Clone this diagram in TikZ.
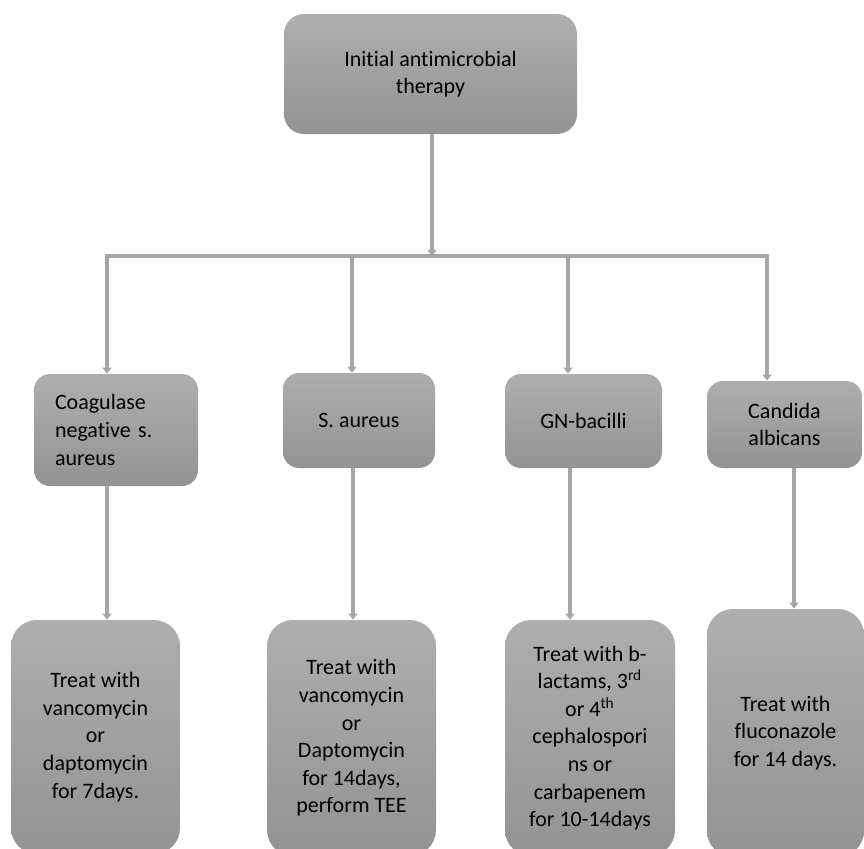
\documentclass[tikz,border=0pt]{standalone}
\usepackage{fontspec}
\setmainfont{Carlito}[RawFeature=-liga]
\usetikzlibrary{arrows.meta}
\definecolor{boxtop}{HTML}{AEAEAE}
\definecolor{boxbot}{HTML}{939393}
\definecolor{linegray}{HTML}{A6A6A6}
\tikzset{
  box/.style={rounded corners=#1, top color=boxtop, bottom color=boxbot,
    draw=none, align=center, inner sep=0pt,
    font=\fontsize{11}{13.8}\selectfont},
  box/.default=8pt,
  link/.style={draw=linegray, line width=1.8pt},
  arr/.style={link, -{Triangle[length=3pt,width=4.5pt]}}
}
\begin{document}
\begin{tikzpicture}[x=0.5pt,y=-0.5pt]
  \useasboundingbox (0,0) rectangle (864,848);
  \clip (0,0) rectangle (864,848);
  % top
  \node[box=10pt, minimum width=146.5pt, minimum height=60pt] (init) at (430.5,74)
    {Initial antimicrobial\\therapy};
  % organisms
  \node[box, align=left, text width=61pt, inner xsep=10.5pt, minimum height=56pt] (con) at (116,430)
    {Coagulase\\negative s.\\aureus};
  \node[box, minimum width=76pt, minimum height=47.5pt] (sau) at (359,420.5) {S. aureus};
  \node[box, minimum width=78.5pt, minimum height=47pt] (gnb) at (583.5,421) {GN-bacilli};
  \node[box, minimum width=77.5pt, minimum height=43.5pt] (can) at (784.5,424.5) {Candida\\albicans};
  % treatments
  \node[box=13pt, minimum width=84.5pt, minimum height=117pt] (tcon) at (95.5,737)
    {Treat with\\vancomycin\\or\\daptomycin\\for 7days.};
  \node[box=13pt, minimum width=84.5pt, minimum height=118pt] (tsau) at (351.5,738)
    {Treat with\\vancomycin\\or\\Daptomycin\\for 14days,\\perform TEE};
  \node[box=13pt, minimum width=85pt, minimum height=118pt] (tgnb) at (590,738)
    {Treat with b-\\lactams, 3\textsuperscript{rd}\\or 4\textsuperscript{th}\\cephalospori\\ns or\\carbapenem\\for 10-14days};
  \node[box=13pt, minimum width=78.5pt, minimum height=124pt] (tcan) at (785.5,733)
    {Treat with\\fluconazole\\for 14 days.};
  % bar
  \coordinate (left) at (105,256);
  \coordinate (right) at (769,256);
  \coordinate (d1) at (107,256);
  \coordinate (d2) at (352,256);
  \coordinate (d3) at (568,256);
  \coordinate (d4) at (767,256);
  \draw[link] (left) -- (right);
  \draw[arr] (init.south -| 432,0) -- (432,256);
  \draw[arr] (d1) -- (d1 |- con.north);
  \draw[arr] (d2) -- (d2 |- sau.north);
  \draw[arr] (d3) -- (d3 |- gnb.north);
  \draw[arr] (d4) -- (d4 |- can.north);
  % to treatments
  \draw[arr] (con.south -| d1) -- (tcon.north -| d1);
  \draw[arr] (sau.south -| 353,0) -- (tsau.north -| 353,0);
  \draw[arr] (gnb.south -| 570,0) -- (tgnb.north -| 570,0);
  \draw[arr] (can.south -| 794,0) -- (tcan.north -| 794,0);
\end{tikzpicture}
\end{document}
